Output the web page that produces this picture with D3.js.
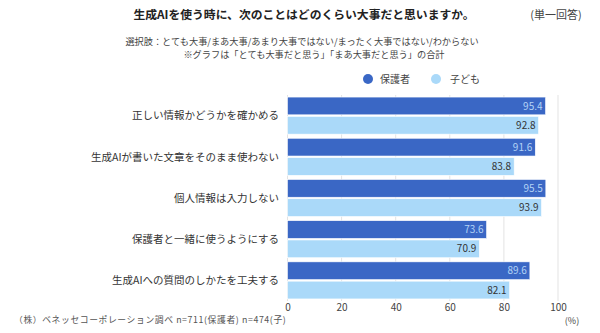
<!DOCTYPE html>
<html><head><meta charset="utf-8">
<script src="https://cdn.jsdelivr.net/npm/d3@7"></script>
<style>body{margin:0;background:#fff}svg{display:block}text{font-family:"Noto Sans CJK JP","Noto Sans",sans-serif}</style>
</head><body>
<script>
const categories = ["正しい情報かどうかを確かめる","生成AIが書いた文章をそのまま使わない","個人情報は入力しない","保護者と一緒に使うようにする","生成AIへの質問のしかたを工夫する"];
const seriesNames = ["保護者","子ども"];
const parentValues = [95.4, 91.6, 95.5, 73.6, 89.6];
const childValues = [92.8, 83.8, 93.9, 70.9, 82.1];
const xTicks = [0,20,40,60,80,100];
const colors = ["#3a67c5","#aad9f9"];
const labelColors = ["#b3d3f6","#333333"];

const W=600,H=333;
const svg=d3.select("body").append("svg").attr("width",W).attr("height",H);

const x=d3.scaleLinear().domain([0,100]).range([287.5,558]);
const y=d3.scaleBand().domain(categories).range([95,301]).paddingInner(0.1).paddingOuter(0.05);
const ys=d3.scaleBand().domain(seriesNames).range([0,y.bandwidth()]).paddingInner(0.08);

// title
svg.append("text").attr("x",304).attr("y",19).attr("text-anchor","middle").attr("font-size",11.8).attr("font-weight","bold").attr("fill","#222").text("生成AIを使う時に、次のことはどのくらい大事だと思いますか。");
svg.append("text").attr("x",556).attr("y",19).attr("text-anchor","middle").attr("font-size",11).attr("fill","#444").text("(単一回答)");
svg.append("text").attr("x",302).attr("y",44.5).attr("text-anchor","middle").attr("font-size",9.2).attr("fill","#444").text("選択肢：とても大事/まあ大事/あまり大事ではない/まったく大事ではない/わからない");
svg.append("text").attr("x",314).attr("y",58).attr("text-anchor","middle").attr("font-size",9.2).attr("fill","#444").text("※グラフは「とても大事だと思う」「まあ大事だと思う」の合計");

// legend
const lg=svg.append("g");
[[368,380],[436,450]].forEach((p,i)=>{
  lg.append("circle").attr("cx",p[0]).attr("cy",79).attr("r",5).attr("fill",colors[i]);
  lg.append("text").attr("x",p[1]).attr("y",83).attr("font-size",10).attr("fill","#444").text(seriesNames[i]);
});

// grid
svg.append("g").selectAll("line").data(xTicks).join("line")
  .attr("x1",d=>x(d)).attr("x2",d=>x(d)).attr("y1",95).attr("y2",301)
  .attr("stroke","#e3e3e3").attr("stroke-width",1);

// axis labels
const ax=d3.axisBottom(x).tickValues(xTicks).tickSize(0).tickPadding(0);
const axg=svg.append("g").attr("transform","translate(0,302)").call(ax);
axg.select(".domain").remove();
axg.selectAll("text").attr("font-size",10).attr("fill","#444").attr("dy","0.9em").style("font-family",'"Noto Sans CJK JP",sans-serif');
svg.append("text").attr("x",572).attr("y",324).attr("text-anchor","middle").attr("font-size",9).attr("fill","#444").text("(%)");

// bars
const data=categories.map((c,i)=>({c,vals:[parentValues[i],childValues[i]]}));
const g=svg.append("g").selectAll("g").data(data).join("g").attr("transform",d=>`translate(0,${y(d.c)})`);
g.selectAll("rect").data(d=>d.vals.map((v,i)=>({v,s:seriesNames[i],i}))).join("rect")
  .attr("x",x(0)).attr("y",d=>ys(d.s)).attr("width",d=>x(d.v)-x(0)).attr("height",ys.bandwidth())
  .attr("fill",d=>colors[d.i]).attr("stroke","#ffffff").attr("stroke-width",0.6);
g.selectAll("text.v").data(d=>d.vals.map((v,i)=>({v,s:seriesNames[i],i}))).join("text").attr("class","v")
  .attr("x",d=>x(d.v)-3).attr("y",d=>ys(d.s)+ys.bandwidth()/2+3.6).attr("text-anchor","end")
  .attr("font-size",10).attr("fill",d=>labelColors[d.i]).text(d=>d.v.toFixed(1));

// category labels
svg.append("g").selectAll("text").data(categories).join("text")
  .attr("x",279).attr("y",d=>y(d)+y.bandwidth()/2+3.8).attr("text-anchor","end")
  .attr("font-size",10.5).attr("fill","#333").text(d=>d);

// source
svg.append("text").attr("x",14).attr("y",323).attr("font-size",8.8).attr("letter-spacing",0.6).attr("fill","#555").text("（株）ベネッセコーポレーション調べ n=711(保護者) n=474(子)");
</script>
</body></html>
